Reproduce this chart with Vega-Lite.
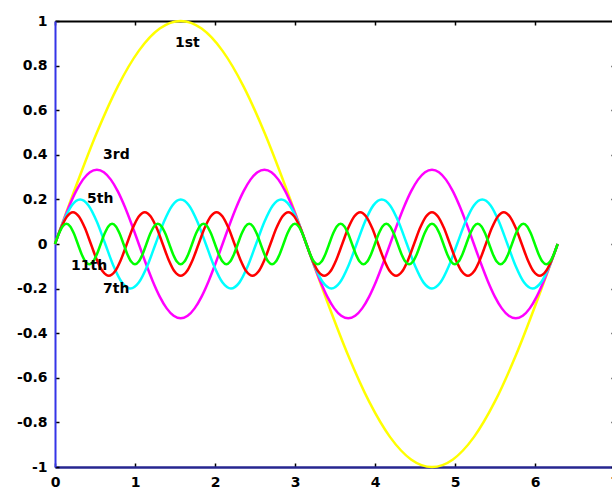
{
"$schema": "https://vega.github.io/schema/vega-lite/v6.json",
"autosize": "none",
"width": 560,
"height": 446,
"padding": {"left": 55, "top": 21, "right": 0, "bottom": 28},
"background": "white",
"view": {"stroke": null},
"config": {
  "axis": {"labelFont": "DejaVu Sans", "labelFontSize": 14, "labelFontWeight": "bold", "labelColor": "black", "grid": false, "tickColor": "black", "tickSize": -4, "tickWidth": 1.5, "labelFlush": false, "labelOverlap": false, "labelBound": false}
},
"datasets": {
"s1": [{"x":0,"y":0},{"x":0.2618,"y":0.2588},{"x":0.5236,"y":0.5},{"x":0.7854,"y":0.7071},{"x":1.0472,"y":0.866},{"x":1.309,"y":0.9659},{"x":1.5708,"y":1},{"x":1.8326,"y":0.9659},{"x":2.0944,"y":0.866},{"x":2.3562,"y":0.7071},{"x":2.618,"y":0.5},{"x":2.8798,"y":0.2588},{"x":3.1416,"y":0},{"x":3.4034,"y":-0.2588},{"x":3.6652,"y":-0.5},{"x":3.927,"y":-0.7071},{"x":4.1888,"y":-0.866},{"x":4.4506,"y":-0.9659},{"x":4.7124,"y":-1},{"x":4.9742,"y":-0.9659},{"x":5.236,"y":-0.866},{"x":5.4978,"y":-0.7071},{"x":5.7596,"y":-0.5},{"x":6.0214,"y":-0.2588},{"x":6.2832,"y":0}],
"s3": [{"x":0,"y":0},{"x":0.0873,"y":0.0863},{"x":0.1745,"y":0.1667},{"x":0.2618,"y":0.2357},{"x":0.3491,"y":0.2887},{"x":0.4363,"y":0.322},{"x":0.5236,"y":0.3333},{"x":0.6109,"y":0.322},{"x":0.6981,"y":0.2887},{"x":0.7854,"y":0.2357},{"x":0.8727,"y":0.1667},{"x":0.9599,"y":0.0863},{"x":1.0472,"y":0},{"x":1.1345,"y":-0.0863},{"x":1.2217,"y":-0.1667},{"x":1.309,"y":-0.2357},{"x":1.3963,"y":-0.2887},{"x":1.4835,"y":-0.322},{"x":1.5708,"y":-0.3333},{"x":1.6581,"y":-0.322},{"x":1.7453,"y":-0.2887},{"x":1.8326,"y":-0.2357},{"x":1.9199,"y":-0.1667},{"x":2.0071,"y":-0.0863},{"x":2.0944,"y":0},{"x":2.1817,"y":0.0863},{"x":2.2689,"y":0.1667},{"x":2.3562,"y":0.2357},{"x":2.4435,"y":0.2887},{"x":2.5307,"y":0.322},{"x":2.618,"y":0.3333},{"x":2.7053,"y":0.322},{"x":2.7925,"y":0.2887},{"x":2.8798,"y":0.2357},{"x":2.9671,"y":0.1667},{"x":3.0543,"y":0.0863},{"x":3.1416,"y":0},{"x":3.2289,"y":-0.0863},{"x":3.3161,"y":-0.1667},{"x":3.4034,"y":-0.2357},{"x":3.4907,"y":-0.2887},{"x":3.5779,"y":-0.322},{"x":3.6652,"y":-0.3333},{"x":3.7525,"y":-0.322},{"x":3.8397,"y":-0.2887},{"x":3.927,"y":-0.2357},{"x":4.0143,"y":-0.1667},{"x":4.1015,"y":-0.0863},{"x":4.1888,"y":0},{"x":4.2761,"y":0.0863},{"x":4.3633,"y":0.1667},{"x":4.4506,"y":0.2357},{"x":4.5379,"y":0.2887},{"x":4.6251,"y":0.322},{"x":4.7124,"y":0.3333},{"x":4.7997,"y":0.322},{"x":4.8869,"y":0.2887},{"x":4.9742,"y":0.2357},{"x":5.0615,"y":0.1667},{"x":5.1487,"y":0.0863},{"x":5.236,"y":0},{"x":5.3233,"y":-0.0863},{"x":5.4105,"y":-0.1667},{"x":5.4978,"y":-0.2357},{"x":5.5851,"y":-0.2887},{"x":5.6723,"y":-0.322},{"x":5.7596,"y":-0.3333},{"x":5.8469,"y":-0.322},{"x":5.9341,"y":-0.2887},{"x":6.0214,"y":-0.2357},{"x":6.1087,"y":-0.1667},{"x":6.1959,"y":-0.0863},{"x":6.2832,"y":0}],
"s5": [{"x":0,"y":0},{"x":0.1047,"y":0.1},{"x":0.2094,"y":0.1732},{"x":0.3142,"y":0.2},{"x":0.4189,"y":0.1732},{"x":0.5236,"y":0.1},{"x":0.6283,"y":0},{"x":0.733,"y":-0.1},{"x":0.8378,"y":-0.1732},{"x":0.9425,"y":-0.2},{"x":1.0472,"y":-0.1732},{"x":1.1519,"y":-0.1},{"x":1.2566,"y":0},{"x":1.3614,"y":0.1},{"x":1.4661,"y":0.1732},{"x":1.5708,"y":0.2},{"x":1.6755,"y":0.1732},{"x":1.7802,"y":0.1},{"x":1.885,"y":0},{"x":1.9897,"y":-0.1},{"x":2.0944,"y":-0.1732},{"x":2.1991,"y":-0.2},{"x":2.3038,"y":-0.1732},{"x":2.4086,"y":-0.1},{"x":2.5133,"y":0},{"x":2.618,"y":0.1},{"x":2.7227,"y":0.1732},{"x":2.8274,"y":0.2},{"x":2.9322,"y":0.1732},{"x":3.0369,"y":0.1},{"x":3.1416,"y":0},{"x":3.2463,"y":-0.1},{"x":3.351,"y":-0.1732},{"x":3.4558,"y":-0.2},{"x":3.5605,"y":-0.1732},{"x":3.6652,"y":-0.1},{"x":3.7699,"y":0},{"x":3.8746,"y":0.1},{"x":3.9794,"y":0.1732},{"x":4.0841,"y":0.2},{"x":4.1888,"y":0.1732},{"x":4.2935,"y":0.1},{"x":4.3982,"y":0},{"x":4.5029,"y":-0.1},{"x":4.6077,"y":-0.1732},{"x":4.7124,"y":-0.2},{"x":4.8171,"y":-0.1732},{"x":4.9218,"y":-0.1},{"x":5.0265,"y":0},{"x":5.1313,"y":0.1},{"x":5.236,"y":0.1732},{"x":5.3407,"y":0.2},{"x":5.4454,"y":0.1732},{"x":5.5501,"y":0.1},{"x":5.6549,"y":0},{"x":5.7596,"y":-0.1},{"x":5.8643,"y":-0.1732},{"x":5.969,"y":-0.2},{"x":6.0737,"y":-0.1732},{"x":6.1785,"y":-0.1},{"x":6.2832,"y":0}],
"s7": [{"x":0,"y":0},{"x":0.0748,"y":0.0714},{"x":0.1496,"y":0.1237},{"x":0.2244,"y":0.1429},{"x":0.2992,"y":0.1237},{"x":0.374,"y":0.0714},{"x":0.4488,"y":0},{"x":0.5236,"y":-0.0714},{"x":0.5984,"y":-0.1237},{"x":0.6732,"y":-0.1429},{"x":0.748,"y":-0.1237},{"x":0.8228,"y":-0.0714},{"x":0.8976,"y":0},{"x":0.9724,"y":0.0714},{"x":1.0472,"y":0.1237},{"x":1.122,"y":0.1429},{"x":1.1968,"y":0.1237},{"x":1.2716,"y":0.0714},{"x":1.3464,"y":0},{"x":1.4212,"y":-0.0714},{"x":1.496,"y":-0.1237},{"x":1.5708,"y":-0.1429},{"x":1.6456,"y":-0.1237},{"x":1.7204,"y":-0.0714},{"x":1.7952,"y":0},{"x":1.87,"y":0.0714},{"x":1.9448,"y":0.1237},{"x":2.0196,"y":0.1429},{"x":2.0944,"y":0.1237},{"x":2.1692,"y":0.0714},{"x":2.244,"y":0},{"x":2.3188,"y":-0.0714},{"x":2.3936,"y":-0.1237},{"x":2.4684,"y":-0.1429},{"x":2.5432,"y":-0.1237},{"x":2.618,"y":-0.0714},{"x":2.6928,"y":0},{"x":2.7676,"y":0.0714},{"x":2.8424,"y":0.1237},{"x":2.9172,"y":0.1429},{"x":2.992,"y":0.1237},{"x":3.0668,"y":0.0714},{"x":3.1416,"y":0},{"x":3.2164,"y":-0.0714},{"x":3.2912,"y":-0.1237},{"x":3.366,"y":-0.1429},{"x":3.4408,"y":-0.1237},{"x":3.5156,"y":-0.0714},{"x":3.5904,"y":0},{"x":3.6652,"y":0.0714},{"x":3.74,"y":0.1237},{"x":3.8148,"y":0.1429},{"x":3.8896,"y":0.1237},{"x":3.9644,"y":0.0714},{"x":4.0392,"y":0},{"x":4.114,"y":-0.0714},{"x":4.1888,"y":-0.1237},{"x":4.2636,"y":-0.1429},{"x":4.3384,"y":-0.1237},{"x":4.4132,"y":-0.0714},{"x":4.488,"y":0},{"x":4.5628,"y":0.0714},{"x":4.6376,"y":0.1237},{"x":4.7124,"y":0.1429},{"x":4.7872,"y":0.1237},{"x":4.862,"y":0.0714},{"x":4.9368,"y":0},{"x":5.0116,"y":-0.0714},{"x":5.0864,"y":-0.1237},{"x":5.1612,"y":-0.1429},{"x":5.236,"y":-0.1237},{"x":5.3108,"y":-0.0714},{"x":5.3856,"y":0},{"x":5.4604,"y":0.0714},{"x":5.5352,"y":0.1237},{"x":5.61,"y":0.1429},{"x":5.6848,"y":0.1237},{"x":5.7596,"y":0.0714},{"x":5.8344,"y":0},{"x":5.9092,"y":-0.0714},{"x":5.984,"y":-0.1237},{"x":6.0588,"y":-0.1429},{"x":6.1336,"y":-0.1237},{"x":6.2084,"y":-0.0714},{"x":6.2832,"y":0}],
"s11": [{"x":0,"y":0},{"x":0.0476,"y":0.0455},{"x":0.0952,"y":0.0787},{"x":0.1428,"y":0.0909},{"x":0.1904,"y":0.0787},{"x":0.238,"y":0.0455},{"x":0.2856,"y":0},{"x":0.3332,"y":-0.0455},{"x":0.3808,"y":-0.0787},{"x":0.4284,"y":-0.0909},{"x":0.476,"y":-0.0787},{"x":0.5236,"y":-0.0455},{"x":0.5712,"y":0},{"x":0.6188,"y":0.0455},{"x":0.6664,"y":0.0787},{"x":0.714,"y":0.0909},{"x":0.7616,"y":0.0787},{"x":0.8092,"y":0.0455},{"x":0.8568,"y":0},{"x":0.9044,"y":-0.0455},{"x":0.952,"y":-0.0787},{"x":0.9996,"y":-0.0909},{"x":1.0472,"y":-0.0787},{"x":1.0948,"y":-0.0455},{"x":1.1424,"y":0},{"x":1.19,"y":0.0455},{"x":1.2376,"y":0.0787},{"x":1.2852,"y":0.0909},{"x":1.3328,"y":0.0787},{"x":1.3804,"y":0.0455},{"x":1.428,"y":0},{"x":1.4756,"y":-0.0455},{"x":1.5232,"y":-0.0787},{"x":1.5708,"y":-0.0909},{"x":1.6184,"y":-0.0787},{"x":1.666,"y":-0.0455},{"x":1.7136,"y":0},{"x":1.7612,"y":0.0455},{"x":1.8088,"y":0.0787},{"x":1.8564,"y":0.0909},{"x":1.904,"y":0.0787},{"x":1.9516,"y":0.0455},{"x":1.9992,"y":0},{"x":2.0468,"y":-0.0455},{"x":2.0944,"y":-0.0787},{"x":2.142,"y":-0.0909},{"x":2.1896,"y":-0.0787},{"x":2.2372,"y":-0.0455},{"x":2.2848,"y":0},{"x":2.3324,"y":0.0455},{"x":2.38,"y":0.0787},{"x":2.4276,"y":0.0909},{"x":2.4752,"y":0.0787},{"x":2.5228,"y":0.0455},{"x":2.5704,"y":0},{"x":2.618,"y":-0.0455},{"x":2.6656,"y":-0.0787},{"x":2.7132,"y":-0.0909},{"x":2.7608,"y":-0.0787},{"x":2.8084,"y":-0.0455},{"x":2.856,"y":0},{"x":2.9036,"y":0.0455},{"x":2.9512,"y":0.0787},{"x":2.9988,"y":0.0909},{"x":3.0464,"y":0.0787},{"x":3.094,"y":0.0455},{"x":3.1416,"y":0},{"x":3.1892,"y":-0.0455},{"x":3.2368,"y":-0.0787},{"x":3.2844,"y":-0.0909},{"x":3.332,"y":-0.0787},{"x":3.3796,"y":-0.0455},{"x":3.4272,"y":0},{"x":3.4748,"y":0.0455},{"x":3.5224,"y":0.0787},{"x":3.57,"y":0.0909},{"x":3.6176,"y":0.0787},{"x":3.6652,"y":0.0455},{"x":3.7128,"y":0},{"x":3.7604,"y":-0.0455},{"x":3.808,"y":-0.0787},{"x":3.8556,"y":-0.0909},{"x":3.9032,"y":-0.0787},{"x":3.9508,"y":-0.0455},{"x":3.9984,"y":0},{"x":4.046,"y":0.0455},{"x":4.0936,"y":0.0787},{"x":4.1412,"y":0.0909},{"x":4.1888,"y":0.0787},{"x":4.2364,"y":0.0455},{"x":4.284,"y":0},{"x":4.3316,"y":-0.0455},{"x":4.3792,"y":-0.0787},{"x":4.4268,"y":-0.0909},{"x":4.4744,"y":-0.0787},{"x":4.522,"y":-0.0455},{"x":4.5696,"y":0},{"x":4.6172,"y":0.0455},{"x":4.6648,"y":0.0787},{"x":4.7124,"y":0.0909},{"x":4.76,"y":0.0787},{"x":4.8076,"y":0.0455},{"x":4.8552,"y":0},{"x":4.9028,"y":-0.0455},{"x":4.9504,"y":-0.0787},{"x":4.998,"y":-0.0909},{"x":5.0456,"y":-0.0787},{"x":5.0932,"y":-0.0455},{"x":5.1408,"y":0},{"x":5.1884,"y":0.0455},{"x":5.236,"y":0.0787},{"x":5.2836,"y":0.0909},{"x":5.3312,"y":0.0787},{"x":5.3788,"y":0.0455},{"x":5.4264,"y":0},{"x":5.474,"y":-0.0455},{"x":5.5216,"y":-0.0787},{"x":5.5692,"y":-0.0909},{"x":5.6168,"y":-0.0787},{"x":5.6644,"y":-0.0455},{"x":5.712,"y":0},{"x":5.7596,"y":0.0455},{"x":5.8072,"y":0.0787},{"x":5.8548,"y":0.0909},{"x":5.9024,"y":0.0787},{"x":5.95,"y":0.0455},{"x":5.9976,"y":0},{"x":6.0452,"y":-0.0455},{"x":6.0928,"y":-0.0787},{"x":6.1404,"y":-0.0909},{"x":6.188,"y":-0.0787},{"x":6.2356,"y":-0.0455},{"x":6.2832,"y":0}],
"labels": [{"t":"1st","x":1.5,"y":0.9},{"t":"3rd","x":0.6,"y":0.4},{"t":"5th","x":0.4,"y":0.2},{"t":"11th","x":0.2,"y":-0.1},{"t":"7th","x":0.6,"y":-0.2}]
},
"layer": [
  {
    "encoding": {
      "x": {"field": "x", "type": "quantitative", "title": null, "scale": {"domain": [0, 7], "nice": false, "zero": false},
            "axis": {"orient": "bottom", "values": [0,1,2,3,4,5,6,7], "labelExpr": "'' + datum.value", "domainColor": "#262690", "domainWidth": 2.5, "labelPadding": 12}},
      "y": {"field": "y", "type": "quantitative", "title": null, "scale": {"domain": [-1, 1], "nice": false, "zero": false},
            "axis": {"orient": "left", "values": [-1,-0.8,-0.6,-0.4,-0.2,0,0.2,0.4,0.6,0.8,1], "labelExpr": "'' + datum.value", "domainColor": "#3535e8", "domainWidth": 2, "labelPadding": 12}}
    },
    "layer": [
      {"data": {"name": "s1"}, "mark": {"type": "line", "color": "#ffff00", "strokeWidth": 2.5, "interpolate": "monotone"}},
      {"data": {"name": "s3"}, "mark": {"type": "line", "color": "#ff00ff", "strokeWidth": 2.5, "interpolate": "monotone"}},
      {"data": {"name": "s5"}, "mark": {"type": "line", "color": "#00ffff", "strokeWidth": 2.5, "interpolate": "monotone"}},
      {"data": {"name": "s7"}, "mark": {"type": "line", "color": "#ff0000", "strokeWidth": 2.5, "interpolate": "monotone"}},
      {"data": {"name": "s11"}, "mark": {"type": "line", "color": "#00ff00", "strokeWidth": 2.5, "interpolate": "monotone"}}
    ]
  },
  {
    "data": {"name": "labels"},
    "mark": {"type": "text", "align": "left", "baseline": "middle", "font": "DejaVu Sans", "fontSize": 14, "fontWeight": "bold", "color": "black"},
    "encoding": {
      "x": {"field": "x", "type": "quantitative", "title": null, "scale": {"domain": [0, 7], "nice": false, "zero": false},
            "axis": {"orient": "top", "labels": false, "values": [0,1,2,3,4,5,6,7], "domainColor": "black", "domainWidth": 2}},
      "y": {"field": "y", "type": "quantitative", "title": null, "scale": {"domain": [-1, 1], "nice": false, "zero": false},
            "axis": {"orient": "right", "labels": false, "values": [-1,-0.8,-0.6,-0.4,-0.2,0,0.2,0.4,0.6,0.8,1], "domainColor": "black"}},
      "text": {"field": "t"}
    }
  }
],
"resolve": {"axis": {"x": "independent", "y": "independent"}}
}
